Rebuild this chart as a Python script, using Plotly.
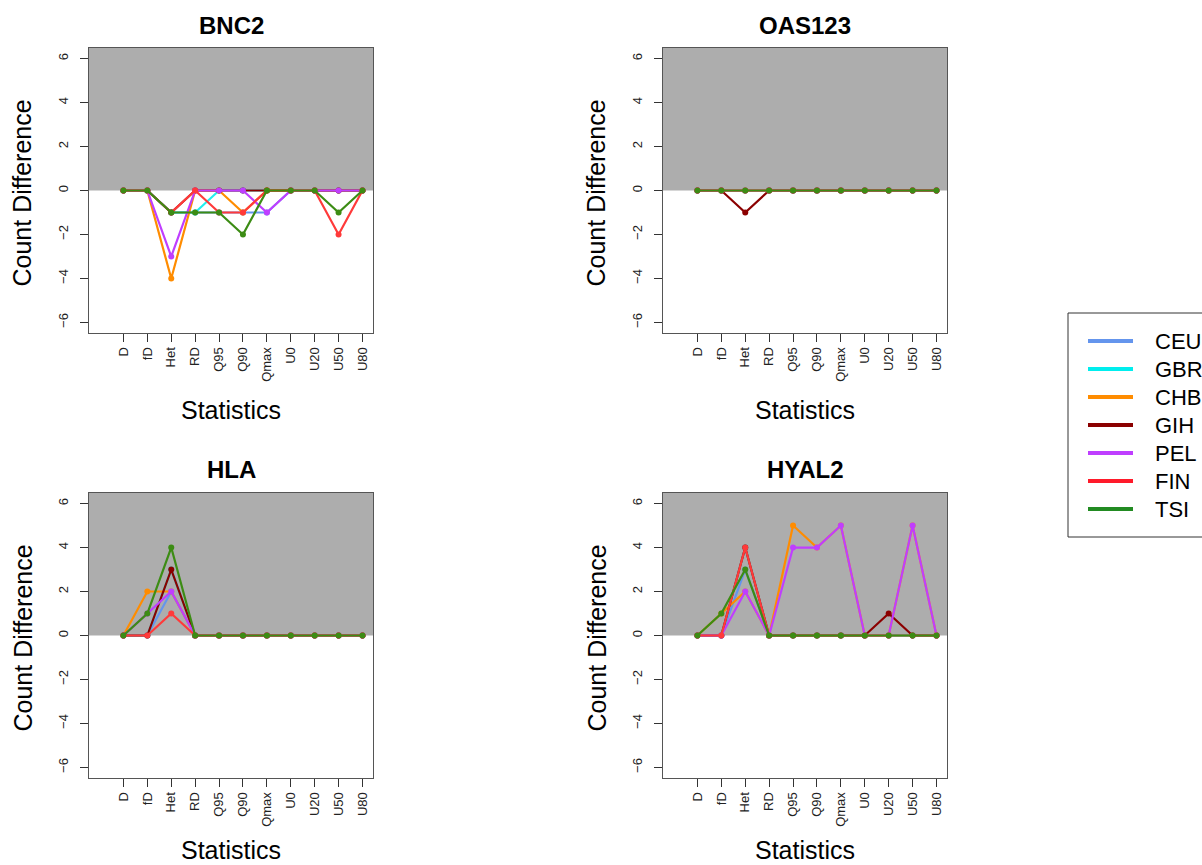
import plotly.graph_objects as go

categories = ["D", "fD", "Het", "RD", "Q95", "Q90", "Qmax", "U0", "U20", "U50", "U80"]
populations = ["CEU", "GBR", "CHB", "GIH", "PEL", "FIN", "TSI"]
pop_colors = ["#6495ED", "#22EEEE", "#FF8C00", "#8B0000", "#BF3EFF", "#FF3A3A", "#3C8C14"]
legend_colors = ["#6495ED", "#00EEEE", "#FF8C00", "#8B0000", "#BF3EFF", "#FF1A2A", "#228B22"]

genes = ["BNC2", "OAS123", "HLA", "HYAL2"]

bnc2 = {
    "CEU": [0, 0, -1, -1, -1, -1, -1, 0, 0, 0, 0],
    "GBR": [0, 0, -1, -1, 0, 0, 0, 0, 0, 0, 0],
    "CHB": [0, 0, -4, 0, 0, -1, 0, 0, 0, 0, 0],
    "GIH": [0, 0, -1, 0, 0, 0, 0, 0, 0, 0, 0],
    "PEL": [0, 0, -3, 0, 0, 0, -1, 0, 0, 0, 0],
    "FIN": [0, 0, -1, 0, -1, -1, 0, 0, 0, -2, 0],
    "TSI": [0, 0, -1, -1, -1, -2, 0, 0, 0, -1, 0],
}
oas123 = {
    "CEU": [0, 0, 0, 0, 0, 0, 0, 0, 0, 0, 0],
    "GBR": [0, 0, 0, 0, 0, 0, 0, 0, 0, 0, 0],
    "CHB": [0, 0, 0, 0, 0, 0, 0, 0, 0, 0, 0],
    "GIH": [0, 0, -1, 0, 0, 0, 0, 0, 0, 0, 0],
    "PEL": [0, 0, 0, 0, 0, 0, 0, 0, 0, 0, 0],
    "FIN": [0, 0, 0, 0, 0, 0, 0, 0, 0, 0, 0],
    "TSI": [0, 0, 0, 0, 0, 0, 0, 0, 0, 0, 0],
}
hla = {
    "CEU": [0, 0, 2, 0, 0, 0, 0, 0, 0, 0, 0],
    "GBR": [0, 0, 3, 0, 0, 0, 0, 0, 0, 0, 0],
    "CHB": [0, 2, 2, 0, 0, 0, 0, 0, 0, 0, 0],
    "GIH": [0, 0, 3, 0, 0, 0, 0, 0, 0, 0, 0],
    "PEL": [0, 1, 2, 0, 0, 0, 0, 0, 0, 0, 0],
    "FIN": [0, 0, 1, 0, 0, 0, 0, 0, 0, 0, 0],
    "TSI": [0, 1, 4, 0, 0, 0, 0, 0, 0, 0, 0],
}
hyal2 = {
    "CEU": [0, 0, 3, 0, 0, 0, 0, 0, 0, 0, 0],
    "GBR": [0, 0, 4, 0, 0, 0, 0, 0, 0, 0, 0],
    "CHB": [0, 1, 2, 0, 5, 4, 5, 0, 0, 5, 0],
    "GIH": [0, 0, 4, 0, 0, 0, 0, 0, 1, 0, 0],
    "PEL": [0, 0, 2, 0, 4, 4, 5, 0, 0, 5, 0],
    "FIN": [0, 0, 4, 0, 0, 0, 0, 0, 0, 0, 0],
    "TSI": [0, 1, 3, 0, 0, 0, 0, 0, 0, 0, 0],
}
gene_data = [bnc2, oas123, hla, hyal2]

y_ticks = [-6, -4, -2, 0, 2, 4, 6]

FONT = "Liberation Sans, Arial, Helvetica, sans-serif"
W, H = 1202, 865

# panel boxes in pixels: (left, right, top, bottom)
panels = [
    (89, 373, 48, 333),
    (663, 947, 48, 333),
    (89, 373, 493, 778),
    (663, 947, 493, 778),
]

fig = go.Figure()

for i, (gene, data) in enumerate(zip(genes, gene_data)):
    ax = "" if i == 0 else str(i + 1)
    for pop, col in zip(populations, pop_colors):
        fig.add_trace(go.Scatter(
            x=categories, y=data[pop], mode="lines+markers",
            line=dict(color=col, width=2.2),
            marker=dict(color=col, size=6),
            xaxis="x" + ax, yaxis="y" + ax, showlegend=False, hoverinfo="skip",
        ))
    l, r, t, b = panels[i]
    xd = [l / W, r / W]
    yd = [1 - b / H, 1 - t / H]
    axis_common = dict(
        showline=True, linecolor="#555555", linewidth=1, mirror=True,
        ticks="outside", ticklen=8, tickcolor="#333333", tickwidth=1,
        showgrid=False, zeroline=False, tickangle=-90,
        tickfont=dict(family=FONT, size=13, color="#222222"),
    )
    fig.update_layout(**{
        "xaxis" + ax: dict(domain=xd, range=[-1.44, 10.44], type="category",
                           categoryorder="array", categoryarray=categories,
                           anchor="y" + ax, **axis_common),
        "yaxis" + ax: dict(domain=yd, range=[-6.48, 6.48], tickvals=y_ticks,
                           anchor="x" + ax, ticklabelstandoff=7, **axis_common),
    })
    # grey upper half
    fig.add_shape(type="rect", xref="x" + ax + " domain", yref="y" + ax,
                  x0=0, x1=1, y0=0, y1=6.48, fillcolor="#ADADAD",
                  line=dict(width=0), layer="below")
    cx = (l + r) / 2 / W
    fig.add_annotation(text="<b>" + gene + "</b>", x=cx, y=1 - (t - 23) / H,
                       xref="paper", yref="paper", showarrow=False,
                       xanchor="center", yanchor="middle",
                       font=dict(family=FONT, size=24, color="black"))
    sy = b + 77 if b + 77 < 850 else 850
    fig.add_annotation(text="Statistics", x=cx, y=1 - sy / H,
                       xref="paper", yref="paper", showarrow=False,
                       xanchor="center", yanchor="middle",
                       font=dict(family=FONT, size=25, color="black"))
    fig.add_annotation(text="Count Difference", x=(l - 67) / W, y=1 - ((t + b) / 2 + 3) / H,
                       xref="paper", yref="paper", showarrow=False, textangle=-90,
                       xanchor="center", yanchor="middle",
                       font=dict(family=FONT, size=25, color="black"))

# legend (drawn with shapes and text)
LEG_L, LEG_T, LEG_B = 1068, 313, 537
fig.add_shape(type="rect", xref="paper", yref="paper",
              x0=LEG_L / W, x1=1212 / W, y0=1 - LEG_B / H, y1=1 - LEG_T / H,
              line=dict(color="#333333", width=1), fillcolor="white")
for k, (pop, col) in enumerate(zip(populations, legend_colors)):
    yy = 1 - (341 + 28 * k) / H
    fig.add_shape(type="line", xref="paper", yref="paper",
                  x0=1088 / W, x1=1133 / W, y0=yy, y1=yy,
                  line=dict(color=col, width=4))
    fig.add_annotation(text=pop, x=1153 / W, y=yy, xref="paper", yref="paper",
                       showarrow=False, xanchor="left", yanchor="middle",
                       font=dict(family=FONT, size=22, color="black"))

fig.update_layout(
    width=W, height=H,
    margin=dict(l=0, r=0, t=0, b=0),
    paper_bgcolor="white", plot_bgcolor="white",
    showlegend=False,
)

fig.write_html("out.html")
